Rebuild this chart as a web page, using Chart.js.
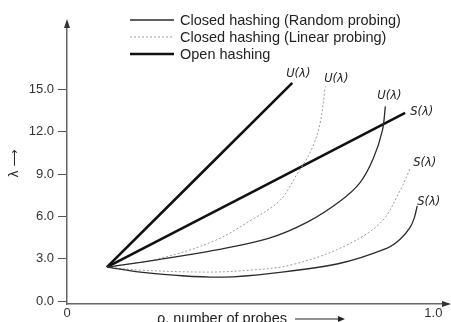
<!DOCTYPE html>
<html>
<head>
<meta charset="utf-8">
<script src="https://cdn.jsdelivr.net/npm/chart.js@4/dist/chart.umd.min.js"></script>
<style>
    html, body { margin: 0; padding: 0; background: #ffffff; overflow: hidden; }
    #wrap { width: 451px; height: 334px; }
</style>
</head>
<body>
<div id="wrap"><canvas id="chart" width="451" height="334"></canvas></div>
<script>
// x = load factor, y = number of probes
const openUx = [0.109, 0.615];
const openUy = [2.41, 15.46];
const openSx = [0.109, 0.923];
const openSy = [2.41, 13.33];

const linearUx = [0.109, 0.25, 0.4, 0.5, 0.582, 0.628, 0.665, 0.69, 0.705];
const linearUy = [2.41, 3.0, 4.25, 5.7, 7.16, 9.0, 10.6, 12.5, 15.2];
const linearSx = [0.109, 0.2, 0.383, 0.5, 0.609, 0.746, 0.855, 0.91, 0.937];
const linearSy = [2.41, 2.2, 2.06, 2.2, 2.55, 3.76, 5.53, 7.87, 9.43];

const randomUx = [0.109, 0.25, 0.4, 0.55, 0.656, 0.746, 0.8, 0.836, 0.861, 0.869];
const randomUy = [2.41, 2.95, 3.6, 4.45, 5.6, 7.1, 8.4, 10.1, 12.1, 13.8];
const randomSx = [0.109, 0.2, 0.29, 0.426, 0.563, 0.74, 0.874, 0.91, 0.937, 0.948, 0.956];
const randomSy = [2.41, 2.06, 1.84, 1.7, 1.99, 2.65, 3.76, 4.4, 5.25, 5.9, 6.75];

const yTicks = [0, 3, 6, 9, 12, 15];
const xTicks = [0, 1];

const legendLabels = ['Closed hashing (Random probing)', 'Closed hashing (Linear probing)', 'Open hashing'];
const xTitle = 'ρ, number of probes';

function pts(xs, ys) {
    return xs.map((x, i) => ({ x: x, y: ys[i] }));
}

const randomStyle = { borderColor: '#2b2b2b', borderWidth: 1.3 };
const linearStyle = { borderColor: '#9c9c9c', borderWidth: 1, borderDash: [2, 2] };
const openStyle = { borderColor: '#111111', borderWidth: 2.6 };

const datasets = [
    { ...randomStyle, data: pts(randomUx, randomUy), curveLabel: 'U(λ)', dx: 4, dy: -10, align: 'center' },
    { ...randomStyle, data: pts(randomSx, randomSy), curveLabel: 'S(λ)', dx: 0, dy: -4, align: 'left' },
    { ...linearStyle, data: pts(linearUx, linearUy), curveLabel: 'U(λ)', dx: 11, dy: -8, align: 'center' },
    { ...linearStyle, data: pts(linearSx, linearSy), curveLabel: 'S(λ)', dx: 3, dy: -5, align: 'left' },
    { ...openStyle, data: pts(openUx, openUy), curveLabel: 'U(λ)', dx: 6, dy: -9, align: 'center' },
    { ...openStyle, data: pts(openSx, openSy), curveLabel: 'S(λ)', dx: 5, dy: -1, align: 'left' }
];
datasets.forEach(d => {
    d.fill = false;
    d.pointRadius = 0;
    d.tension = 0.35;
});

// legend drawn inside plot area, one entry per hashing type
const legendPlugin = {
    id: 'innerLegend',
    afterDraw(chart) {
        const ctx = chart.ctx;
        const sample = [0, 2, 4];
        ctx.save();
        legendLabels.forEach((txt, i) => {
            const ds = chart.data.datasets[sample[i]];
            const y = 20 + i * 17;
            ctx.strokeStyle = ds.borderColor;
            ctx.lineWidth = ds.borderWidth;
            ctx.setLineDash(ds.borderDash || []);
            ctx.beginPath();
            ctx.moveTo(130, y);
            ctx.lineTo(174, y);
            ctx.stroke();
            ctx.setLineDash([]);
            ctx.fillStyle = '#222';
            ctx.font = '14.5px "Liberation Sans", Arial, sans-serif';
            ctx.textBaseline = 'middle';
            ctx.textAlign = 'left';
            ctx.fillText(txt, 180, y + 1);
        });
        ctx.restore();
    }
};

// U(λ) / S(λ) tags at curve ends
const curveLabelPlugin = {
    id: 'curveLabels',
    afterDatasetsDraw(chart) {
        const ctx = chart.ctx;
        ctx.save();
        ctx.fillStyle = '#222';
        ctx.font = 'italic 11.5px "DejaVu Sans", sans-serif';
        ctx.textBaseline = 'middle';
        chart.data.datasets.forEach((ds, i) => {
            const meta = chart.getDatasetMeta(i);
            const last = meta.data[meta.data.length - 1];
            ctx.textAlign = ds.align;
            ctx.fillText(ds.curveLabel, last.x + ds.dx, last.y + ds.dy);
        });
        ctx.restore();
    }
};

// arrow heads on the axes + x axis caption with its long arrow
const arrowPlugin = {
    id: 'axisArrows',
    afterDraw(chart) {
        const { left, right, top, bottom } = chart.chartArea;
        const ctx = chart.ctx;
        ctx.save();
        ctx.fillStyle = '#333';
        ctx.beginPath();
        ctx.moveTo(left, top - 4);
        ctx.lineTo(left - 3, top + 5);
        ctx.lineTo(left + 3, top + 5);
        ctx.closePath();
        ctx.fill();
        ctx.beginPath();
        ctx.moveTo(right + 3, bottom);
        ctx.lineTo(right - 6, bottom - 3);
        ctx.lineTo(right - 6, bottom + 3);
        ctx.closePath();
        ctx.fill();

        ctx.fillStyle = '#222';
        ctx.font = '14.5px "Liberation Sans", Arial, sans-serif';
        ctx.textAlign = 'left';
        ctx.textBaseline = 'alphabetic';
        const tx = 157, ty = bottom + 19;
        ctx.fillText(xTitle, tx, ty);
        const ax0 = tx + ctx.measureText(xTitle).width + 8;
        const ax1 = ax0 + 50;
        ctx.strokeStyle = '#222';
        ctx.lineWidth = 1.2;
        ctx.beginPath();
        ctx.moveTo(ax0, ty - 4);
        ctx.lineTo(ax1 - 5, ty - 4);
        ctx.stroke();
        ctx.beginPath();
        ctx.moveTo(ax1, ty - 4);
        ctx.lineTo(ax1 - 7, ty - 7);
        ctx.lineTo(ax1 - 7, ty - 1);
        ctx.closePath();
        ctx.fill();
        ctx.restore();
    }
};

new Chart(document.getElementById('chart'), {
    type: 'line',
    data: { datasets: datasets },
    options: {
        responsive: false,
        animation: false,
        layout: { padding: { top: 23, right: 3, left: 0, bottom: 0 } },
        plugins: {
            legend: { display: false },
            tooltip: { enabled: false }
        },
        scales: {
            x: {
                type: 'linear',
                min: 0,
                max: 1.04,
                afterFit: s => { s.height = 30; },
                afterBuildTicks: s => { s.ticks = xTicks.map(v => ({ value: v })); },
                grid: { display: false, drawTicks: false },
                border: { display: true, color: '#666', width: 1.5 },
                ticks: {
                    padding: 2,
                    color: '#333',
                    font: { family: '"Liberation Sans", Arial, sans-serif', size: 13 },
                    callback: v => (v === 0 ? '0' : v.toFixed(1))
                },
                title: { display: false }
            },
            y: {
                min: -0.2,
                max: 19.7,
                afterFit: s => { s.width = 67; },
                afterBuildTicks: s => { s.ticks = yTicks.map(v => ({ value: v })); },
                grid: { display: true, drawOnChartArea: false, drawTicks: true, tickLength: 9, color: '#555', lineWidth: 1 },
                border: { display: true, color: '#666', width: 1.5 },
                ticks: {
                    padding: 4,
                    color: '#333',
                    font: { family: '"Liberation Sans", Arial, sans-serif', size: 13 },
                    callback: v => v.toFixed(1)
                },
                title: {
                    display: true,
                    text: 'λ ⟶',
                    color: '#222',
                    font: { family: '"DejaVu Sans", sans-serif', size: 12 },
                    padding: { top: 8, bottom: 0 }
                }
            }
        }
    },
    plugins: [legendPlugin, curveLabelPlugin, arrowPlugin]
});
</script>
</body>
</html>
